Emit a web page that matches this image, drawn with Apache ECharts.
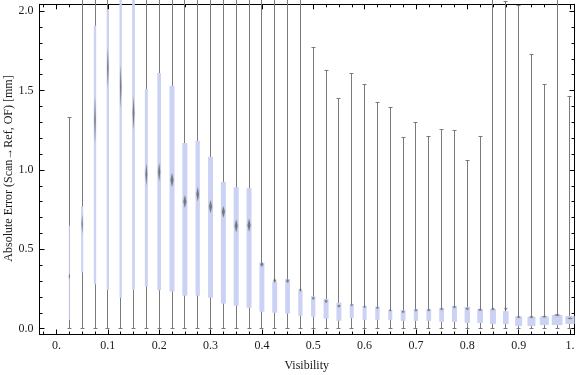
<!DOCTYPE html>
<html><head><meta charset="utf-8">
<script src="https://cdn.jsdelivr.net/npm/echarts@6/dist/echarts.min.js"></script>
<style>html,body{margin:0;padding:0;background:#fff}#c{width:576px;height:375px}</style>
</head><body><div id="c"></div>
<script>
// ---- data ----
const visibility = [0.025,0.05,0.075,0.1,0.125,0.15,0.175,0.2,0.225,0.25,
  0.275,0.3,0.325,0.35,0.375,0.4,0.425,0.45,0.475,0.5,
  0.525,0.55,0.575,0.6,0.625,0.65,0.675,0.7,0.725,0.75,
  0.775,0.8,0.825,0.85,0.875,0.9,0.925,0.95,0.975,1.0];
const whiskerLow = [0,0,0,0,0,0,0,0,0,0, 0,0,0,0,0,0,0,0,0,0, 0,0,0,0,0,0,0,0,0,0, 0,0,0,0,0,0,0,0,0,0];
const lowerQuartile = [0.055,0.355,0.28,0.244,0.195,0.244,0.265,0.242,0.235,0.207,
  0.207,0.195,0.158,0.145,0.132,0.107,0.101,0.095,0.082,0.076,
  0.063,0.050,0.067,0.055,0.055,0.055,0.049,0.049,0.049,0.042,
  0.042,0.036,0.036,0.030,0.030,0.017,0.017,0.023,0.023,0.030];
const median = [0.33,0.66,1.315,1.642,1.524,1.358,0.972,0.986,0.936,0.801,
  0.847,0.769,0.736,0.648,0.652,0.405,0.303,0.301,0.244,0.192,
  0.173,0.143,0.149,0.139,0.132,0.116,0.107,0.116,0.118,0.124,
  0.137,0.126,0.120,0.124,0.126,0.074,0.074,0.076,0.086,0.065];
const upperQuartile = [0.649,0.77,1.91,2.01,2.2,2.2,1.509,1.61,1.53,1.169,
  1.183,1.083,0.925,0.891,0.885,0.416,0.296,0.313,0.240,0.206,
  0.187,0.164,0.156,0.143,0.139,0.118,0.118,0.124,0.124,0.131,
  0.143,0.137,0.124,0.124,0.110,0.076,0.074,0.076,0.086,0.080];
const whiskerHigh = [1.333,2.2,2.2,2.2,2.2,2.2,2.2,2.2,2.2,2.2,
  2.2,2.2,2.2,2.2,2.2,2.2,2.2,2.2,2.2,1.768,
  1.625,1.448,1.610,1.535,1.427,1.390,1.207,1.301,1.213,1.257,
  1.251,1.062,1.213,2.2,2.058,2.035,1.724,1.535,2.2,1.465];
// half-height of the median (notch) marker, data units
const medianSpread = [0.02,0.06,0.148,0.126,0.137,0.105,0.068,0.058,0.044,0.039,
  0.045,0.042,0.037,0.04,0.04,0.015,0.012,0.012,0.01,0.01,
  0.01,0.01,0.008,0.008,0.008,0.008,0.008,0.008,0.008,0.008,
  0.008,0.008,0.008,0.008,0.008,0.006,0.006,0.006,0.006,0.006];
// box width in visibility units (proportional to sample size)
const boxWidth = [0.002,0.004,0.0045,0.0045,0.0045,0.0053,0.0058,0.0072,0.0097,0.0097,
  0.0084,0.0097,0.0097,0.0097,0.0097,0.0097,0.0097,0.0092,0.0084,0.0084,
  0.0097,0.0097,0.0078,0.0078,0.0084,0.0078,0.0092,0.0084,0.0092,0.0092,
  0.0097,0.0103,0.0111,0.0117,0.0111,0.0136,0.0156,0.0175,0.0208,0.0181];
const xTickValues = [0,0.1,0.2,0.3,0.4,0.5,0.6,0.7,0.8,0.9,1];
const xTickLabels = ['0.','0.1','0.2','0.3','0.4','0.5','0.6','0.7','0.8','0.9','1.'];
const yTickValues = [0,0.5,1,1.5,2];
const yTickLabels = ['0.0','0.5','1.0','1.5','2.0'];

const xMinorTicks = [];
for (let k = -1; k <= 40; k++) { if (k % 4 !== 0) xMinorTicks.push(+(k * 0.025).toFixed(3)); }
const yMinorTicks = [];
for (let k = 0; k <= 20; k++) { if (k % 5 !== 0) yMinorTicks.push(+(k * 0.1).toFixed(2)); }

const FONT = 'Liberation Serif';
const xMin = -0.0331, xMax = 1.0088, yMin = -0.0365, yMax = 2.043;
const labelFor = (vals, labels) => v => { const i = vals.findIndex(t => Math.abs(t - v) < 1e-6); return i < 0 ? '' : labels[i]; };

function xAx(pos, ticks, len, withLine, withLabels) {
  return { type: 'value', min: xMin, max: xMax, position: pos,
    axisLine: { show: withLine, onZero: false, lineStyle: { color: '#000', width: 1 } },
    axisTick: { show: true, inside: true, length: len, customValues: ticks, lineStyle: { color: '#000', width: 1 } },
    axisLabel: withLabels ? { show: true, customValues: ticks, formatter: labelFor(xTickValues, xTickLabels),
      margin: 5, fontFamily: FONT, fontSize: 12, color: '#1a1a1a' } : { show: false },
    splitLine: { show: false } };
}
function yAx(pos, ticks, len, withLine, withLabels) {
  return { type: 'value', min: yMin, max: yMax, position: pos,
    axisLine: { show: withLine, onZero: false, lineStyle: { color: '#000', width: 1 } },
    axisTick: { show: true, inside: true, length: len, customValues: ticks, lineStyle: { color: '#000', width: 1 } },
    axisLabel: withLabels ? { show: true, customValues: ticks, formatter: labelFor(yTickValues, yTickLabels),
      margin: 6, fontFamily: FONT, fontSize: 12, color: '#1a1a1a' } : { show: false },
    splitLine: { show: false } };
}

const rows = visibility.map((v, i) => [v, whiskerLow[i], lowerQuartile[i], median[i], upperQuartile[i], whiskerHigh[i], medianSpread[i], boxWidth[i]]);

const chart = echarts.init(document.getElementById('c'), null, { renderer: 'canvas' });
chart.setOption({
  animation: false,
  backgroundColor: '#fff',
  grid: { left: 39.5, right: 1.5, top: 4.3, bottom: 40.5, containLabel: false, outerBoundsMode: 'none' },
  xAxis: [ xAx('bottom', xTickValues, 5, true, true), xAx('bottom', xMinorTicks, 3, false, false),
           xAx('top', xTickValues, 5, true, false), xAx('top', xMinorTicks, 3, false, false) ],
  yAxis: [ yAx('left', yTickValues, 5, true, true), yAx('left', yMinorTicks, 3, false, false),
           yAx('right', yTickValues, 5, true, false), yAx('right', yMinorTicks, 3, false, false) ],
  graphic: [
    { type: 'text', x: 306.7, y: 366, style: { text: 'Visibility', fontFamily: FONT, fontSize: 12, fill: '#1a1a1a', align: 'center', verticalAlign: 'middle' } },
    { type: 'text', x: 8.5, y: 168.5, rotation: Math.PI / 2, style: { text: 'Absolute Error (Scan\u2192Ref, OF) [mm]', fontFamily: FONT, fontSize: 12, fill: '#1a1a1a', align: 'center', verticalAlign: 'middle' } }
  ],
  series: [{
    type: 'custom', xAxisIndex: 0, yAxisIndex: 0, clip: false,
    encode: { x: 0, y: [1, 5] },
    data: rows,
    renderItem: function (params, api) {
      const x = api.value(0);
      const pLo = api.coord([x, api.value(1)]);
      const pQ1 = api.coord([x, api.value(2)]);
      const pMd = api.coord([x, api.value(3)]);
      const pQ3 = api.coord([x, api.value(4)]);
      const pHi = api.coord([x, api.value(5)]);
      const nh = api.size([0, api.value(6)])[1];
      const w = api.size([api.value(7), 0])[0];
      const x0 = pLo[0];
      const cx = Math.round(x0 - 0.5) + 0.5;
      const yl = Math.round(pLo[1] - 0.5) + 0.5, yh = Math.round(pHi[1] - 0.5) + 0.5;
      const grey = '#7a7a7a';
      const mw = Math.max(1, w * 0.6);
      return { type: 'group', children: [
        { type: 'line', shape: { x1: cx, y1: yl, x2: cx, y2: yh }, style: { stroke: grey, lineWidth: 1 } },
        { type: 'line', shape: { x1: cx - 2, y1: yl, x2: cx + 2, y2: yl }, style: { stroke: grey, lineWidth: 1 } },
        { type: 'line', shape: { x1: cx - 2, y1: yh, x2: cx + 2, y2: yh }, style: { stroke: grey, lineWidth: 1 } },
        { type: 'rect', shape: { x: x0 - w / 2, y: pQ3[1], width: w, height: pQ1[1] - pQ3[1] }, style: { fill: '#cbd2f4' } },
        { type: 'polygon', shape: { points: [[x0, pMd[1] - nh], [x0 + mw / 2, pMd[1]], [x0, pMd[1] + nh], [x0 - mw / 2, pMd[1]]] },
          style: { fill: 'rgba(95,95,95,0.7)', shadowBlur: 1.5, shadowColor: 'rgba(95,95,95,0.5)' } }
      ] };
    }
  }]
});
</script>
</body></html>
